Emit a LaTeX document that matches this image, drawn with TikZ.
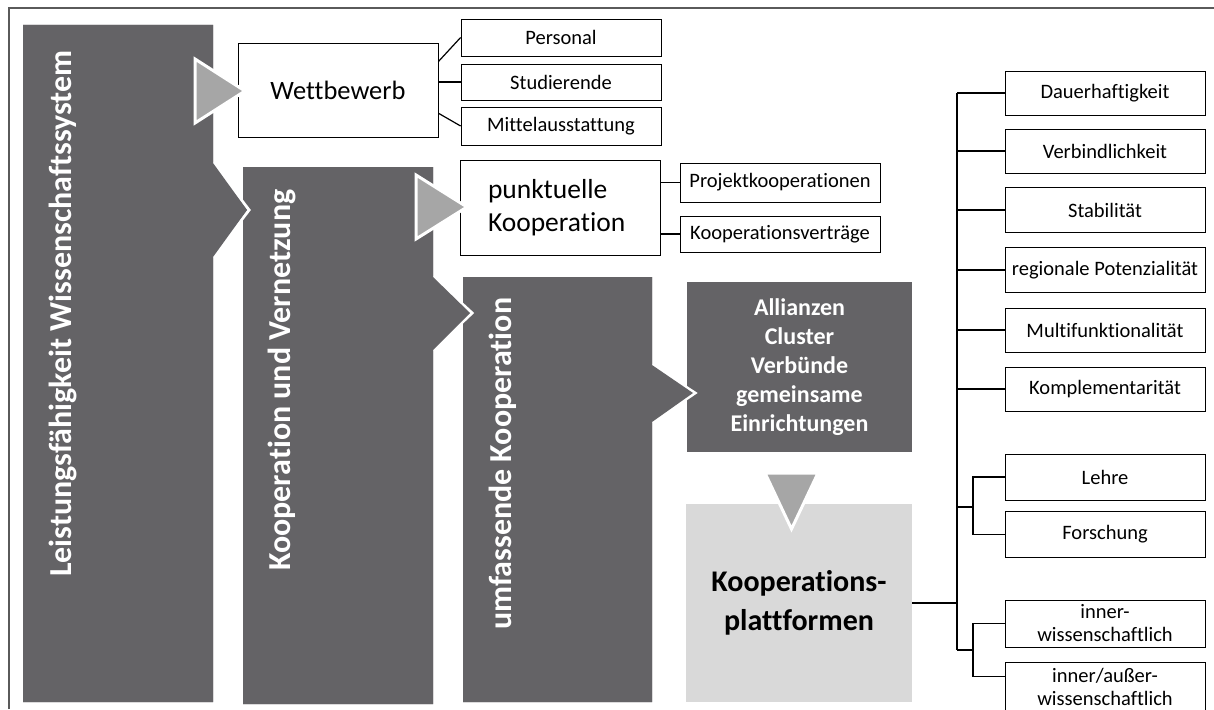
\documentclass[tikz,border=0pt]{standalone}
\usepackage{fontspec}
\setmainfont{Carlito}[Ligatures=NoCommon]
\usetikzlibrary{calc}
\definecolor{darkg}{RGB}{100,99,102}
\definecolor{trig}{RGB}{166,166,166}
\definecolor{lightg}{RGB}{217,217,217}
\definecolor{frameg}{RGB}{90,90,90}
\begin{document}
\begin{tikzpicture}[x=1pt,y=-1pt,
  box/.style={draw=black, line width=0.8pt, fill=white, inner sep=1pt, align=center,
    minimum width=200pt, font=\fontsize{20.5}{23}\selectfont},
  chev/.style={fill=darkg},
  notch/.style={draw=white, line width=3pt, line join=miter},
  tri/.style={fill=trig, draw=white, line width=3pt, line join=miter},
  chevtext/.style={rotate=90, text=white, inner sep=0pt, anchor=base west,
    font=\fontsize{32}{38}\selectfont\bfseries},
  conn/.style={draw=black, line width=1.2pt}]
\useasboundingbox (0,0) rectangle (1214,709);
% frame
\draw[frameg, line width=1.2pt] (9,709) -- (9,8) -- (1214,8);
% boxes
\node[box, minimum height=94pt, font=\fontsize{26.5}{31}\selectfont] (wett) at (338,90) {Wettbewerb};
\node[box, minimum height=37pt] (pers) at (561,37.5) {Personal};
\node[box, minimum height=36pt] (stud) at (561,82) {Studierende};
\node[box, minimum height=38pt] (mittel) at (561,126) {Mittelausstattung};
\node[box, minimum height=95pt, text width=144pt, inner xsep=28pt, align=left,
  font=\fontsize{27.5}{33}\selectfont] (punkt) at (560,207.5) {punktuelle\\Kooperation};
\node[box, minimum height=39pt] (proj) at (780,182.5) {Projektkooperationen};
\node[box, minimum height=36pt] (vert) at (780,234) {Kooperationsverträge};
\node[fill=darkg, minimum width=225pt, minimum height=170pt, text=white, align=center,
  font=\fontsize{24}{29}\selectfont\bfseries] (alli) at (799.5,367)
  {Allianzen\\Cluster\\Verbünde\\gemeinsame\\Einrichtungen};
\node[fill=lightg, minimum width=226pt, minimum height=198pt, align=center,
  font=\fontsize{30}{39}\selectfont\bfseries] (plat) at (799,603) {Kooperations-\\plattformen};
% chevrons
\fill[chev] (463,277) -- (652,277) -- (652,365) -- (695,393) -- (652,422) -- (652,702) -- (463,702) -- cycle;
\draw[notch] (652,365) -- (695,393) -- (652,422);
\fill[chev] (463,277) -- (652,277) -- (652,365) -- (693,393) -- (652,422) -- (652,702) -- (463,702) -- cycle;
\fill[chev] (243,167) -- (433,167) -- (433,277) -- (472,313) -- (433,350) -- (433,704) -- (243,704) -- cycle;
\draw[notch] (433,277) -- (472,313) -- (433,350);
\fill[chev] (243,167) -- (433,167) -- (433,277) -- (470,313) -- (433,350) -- (433,704) -- (243,704) -- cycle;
\fill[chev] (23,25) -- (213,25) -- (213,163) -- (249,210) -- (213,257) -- (213,702) -- (23,702) -- cycle;
\draw[notch] (213,163) -- (249,210) -- (213,257);
\fill[chev] (23,25) -- (213,25) -- (213,163) -- (247,210) -- (213,257) -- (213,702) -- (23,702) -- cycle;
% triangles
\draw[tri] (195,59) -- (195,123) -- (245,91) -- cycle;
\draw[tri] (416,175) -- (416,239) -- (467,207) -- cycle;
\draw[tri] (765,473) -- (818,473) -- (791.5,529) -- cycle;
% chevron texts
\node[chevtext] (t1) at (71,577) {Leistungsfähigkeit Wissenschaftssystem};
\node[chevtext] (t2) at (290,571) {Kooperation und Vernetzung};
\node[chevtext] (t3) at (511,630) {umfassende Kooperation};
% right boxes
\node[box, minimum height=44pt] (d1) at (1105,93) {Dauerhaftigkeit};
\node[box, minimum height=44pt] (d2) at (1105,151) {Verbindlichkeit};
\node[box, minimum height=45pt] (d3) at (1105,210) {Stabilität};
\node[box, minimum height=45pt] (d4) at (1105,270) {regionale Potenzialität};
\node[box, minimum height=44pt] (d5) at (1105,330) {Multifunktionalität};
\node[box, minimum height=44pt] (d6) at (1105,389) {Komplementarität};
\node[box, minimum height=46pt] (lehre) at (1105,477) {Lehre};
\node[box, minimum height=46pt] (forsch) at (1105,534.5) {Forschung};
\node[box, minimum height=47pt] (inner) at (1105,623.5) {inner-\\wissenschaftlich};
\node[box, minimum height=50pt] (ausser) at (1105,687) {inner/außer-\\wissenschaftlich};
% connectors left part
\draw[conn] ($(wett.north east)!0.2!(wett.south east)$) -- (pers.west);
\draw[conn] (stud.west -| wett.east) -- (stud.west);
\draw[conn] ($(wett.north east)!0.745!(wett.south east)$) -- (mittel.west);
\draw[conn] (proj.west -| punkt.east) -- (proj.west);
\draw[conn] (vert.west -| punkt.east) -- (vert.west);
% tree
\coordinate (jA) at (957,507);
\coordinate (jP) at (957,603);
\coordinate (jB) at (957,650);
\coordinate (sA) at (973,507);
\coordinate (sB) at (973,650);
\coordinate (aw) at ($(ausser.north west)+(0,15)$);
\draw[conn] (d1.west -| jB) -- (jB);
\foreach \n in {d1,d2,d3,d4,d5,d6} \draw[conn] (\n.west) -- (\n.west -| jB);
\draw[conn] (plat.east) -- (jP);
\draw[conn] (jA) -- (sA);
\draw[conn] (lehre.west) -- (lehre.west -| sA) -- (forsch.west -| sA) -- (forsch.west);
\draw[conn] (jB) -- (sB);
\draw[conn] (inner.west) -- (inner.west -| sB) -- (aw -| sB) -- (aw);
\end{tikzpicture}
\end{document}
